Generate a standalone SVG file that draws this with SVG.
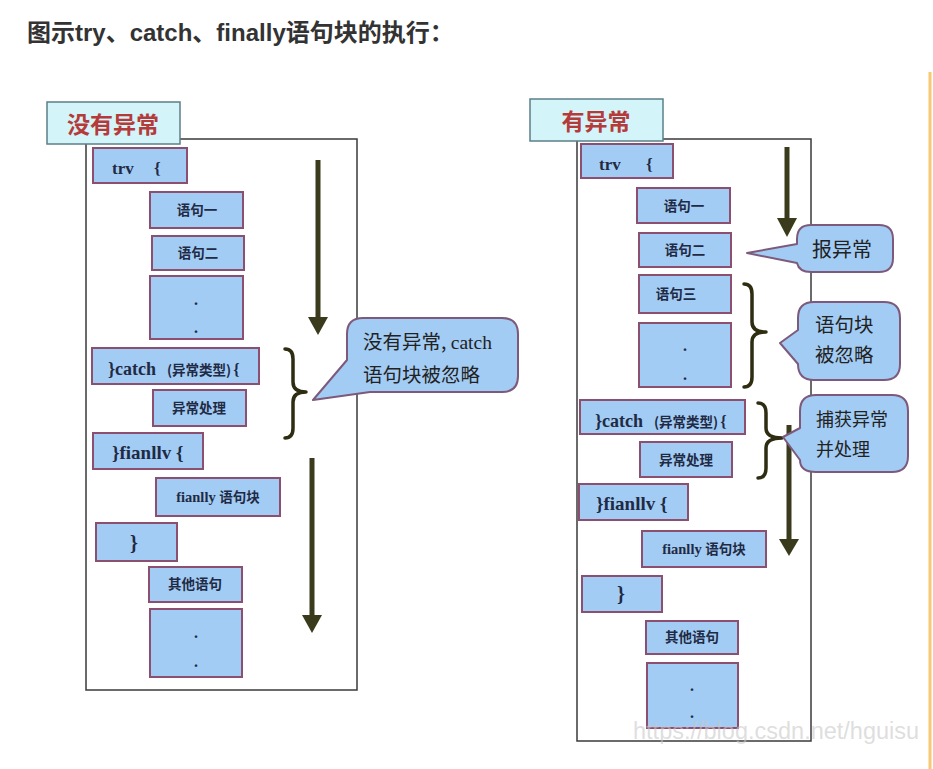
<svg xmlns="http://www.w3.org/2000/svg" width="933" height="769" viewBox="0 0 933 769">
  <style>
    .title { font-family: "Liberation Sans", "Noto Sans CJK SC", sans-serif; font-weight: bold; font-size: 24px; fill: #333; }
    .frame { fill: #fff; stroke: #3a3a3a; stroke-width: 1.5; }
    .tag { fill: #d3f4f8; stroke: #5c7f88; stroke-width: 1.5; }
    .tagtxt { font-family: "Noto Sans CJK SC", sans-serif; font-weight: bold; font-size: 23px; fill: #b53b3b; text-anchor: middle; }
    .box { fill: #a3ccf4; stroke: #8d4f6f; stroke-width: 2; }
    .code { font-family: "Liberation Serif", "Noto Sans CJK SC", serif; font-weight: bold; fill: #1f2a44; }
    .paren { font-family: "Noto Sans CJK SC", sans-serif; font-size: 13.5px; }
    .small { font-family: "Noto Sans CJK SC", sans-serif; font-weight: bold; font-size: 13.5px; fill: #1f2a44; text-anchor: middle; }
    .dot { font-family: "Liberation Serif", serif; font-weight: bold; font-size: 16px; fill: #1f2a44; text-anchor: middle; }
    .shaft { stroke: #3a3a1c; stroke-width: 5; fill: none; }
    .head { fill: #3a3a1c; }
    .brace { stroke: #2e2d12; stroke-width: 3.5; fill: none; stroke-linejoin: round; stroke-linecap: round; }
    .bubble { fill: #a3ccf4; stroke: #7d5a7c; stroke-width: 2; stroke-linejoin: round; }
    .btxt { font-family: "Noto Sans CJK SC", sans-serif; fill: #222; }
    .mark { font-family: "Liberation Sans", sans-serif; font-size: 23.5px; fill: #c8c8c8; fill-opacity: 0.6; }
  </style>

  <rect width="933" height="769" fill="#fff"/>
  <line x1="930" y1="72" x2="930" y2="769" stroke="#f8c872" stroke-width="3"/>

  <text class="title" x="27" y="41">图示try、catch、finally语句块的执行：</text>

  <!-- left panel: no exception -->
  <g id="panel-normal">
    <rect class="frame" x="86" y="139" width="271" height="551"/>
    <g id="tag-normal">
      <rect class="tag" x="47" y="102" width="133" height="42"/>
      <text class="tagtxt" x="113" y="133">没有异常</text>
    </g>
  </g>

  <g id="n-try">
    <rect class="box" x="93" y="148" width="94" height="35"/>
    <text class="code" font-size="17" y="174"><tspan x="112">trv</tspan><tspan x="154">{</tspan></text>
  </g>
  <g id="n-s1">
    <rect class="box" x="150" y="192" width="93" height="36"/>
    <text class="small" x="197" y="215">语句一</text>
  </g>
  <g id="n-s2">
    <rect class="box" x="152" y="236" width="92" height="34"/>
    <text class="small" x="198" y="258">语句二</text>
  </g>
  <g id="n-more1">
    <rect class="box" x="150" y="276" width="93" height="63"/>
    <text class="dot" x="196" y="305">.</text>
    <text class="dot" x="196" y="333">.</text>
  </g>
  <g id="n-catch">
    <rect class="box" x="92" y="348" width="167" height="36"/>
    <text class="code" font-size="18" y="375"><tspan x="108">}catch</tspan><tspan class="paren" x="167">(异常类型)</tspan><tspan font-size="16" dx="2">{</tspan></text>
  </g>
  <g id="n-handle">
    <rect class="box" x="153" y="390" width="93" height="36"/>
    <text class="small" x="199" y="413">异常处理</text>
  </g>
  <g id="n-finally">
    <rect class="box" x="93" y="433" width="110" height="36"/>
    <text class="code" font-size="19" x="112" y="459">}fianllv {</text>
  </g>
  <g id="n-fblock">
    <rect class="box" x="156" y="478" width="124" height="38"/>
    <text class="small" x="218" y="502"><tspan font-family="Liberation Serif, serif" font-size="14.5">fianlly </tspan>语句块</text>
  </g>
  <g id="n-close">
    <rect class="box" x="96" y="523" width="81" height="38"/>
    <text class="code" font-size="20" x="130" y="550">}</text>
  </g>
  <g id="n-other">
    <rect class="box" x="149" y="567" width="93" height="35"/>
    <text class="small" x="195" y="589">其他语句</text>
  </g>
  <g id="n-more2">
    <rect class="box" x="150" y="609" width="92" height="68"/>
    <text class="dot" x="196" y="638">.</text>
    <text class="dot" x="196" y="667">.</text>
  </g>

  <!-- right panel: exception thrown -->
  <g id="panel-error">
    <rect class="frame" x="577" y="139" width="234" height="602"/>
    <g id="tag-error">
      <rect class="tag" x="530" y="99" width="133" height="42"/>
      <text class="tagtxt" x="596" y="130">有异常</text>
    </g>
  </g>

  <g id="e-try">
    <rect class="box" x="581" y="144" width="92" height="34"/>
    <text class="code" font-size="17" y="170"><tspan x="599">trv</tspan><tspan x="646">{</tspan></text>
  </g>
  <g id="e-s1">
    <rect class="box" x="637" y="188" width="93" height="35"/>
    <text class="small" x="684" y="211">语句一</text>
  </g>
  <g id="e-s2">
    <rect class="box" x="639" y="233" width="92" height="34"/>
    <text class="small" x="685" y="255">语句二</text>
  </g>
  <g id="e-s3">
    <rect class="box" x="639" y="275" width="92" height="38"/>
    <text class="small" x="676" y="299">语句三</text>
  </g>
  <g id="e-more1">
    <rect class="box" x="639" y="323" width="92" height="64"/>
    <text class="dot" x="685" y="351">.</text>
    <text class="dot" x="685" y="380">.</text>
  </g>
  <g id="e-catch">
    <rect class="box" x="580" y="400" width="165" height="34"/>
    <text class="code" font-size="18" y="427"><tspan x="595">}catch</tspan><tspan class="paren" x="654">(异常类型)</tspan><tspan font-size="16" dx="2">{</tspan></text>
  </g>
  <g id="e-handle">
    <rect class="box" x="640" y="442" width="92" height="35"/>
    <text class="small" x="686" y="465">异常处理</text>
  </g>
  <g id="e-finally">
    <rect class="box" x="579" y="484" width="109" height="36"/>
    <text class="code" font-size="19" x="596" y="510">}fianllv {</text>
  </g>
  <g id="e-fblock">
    <rect class="box" x="642" y="531" width="124" height="36"/>
    <text class="small" x="704" y="554"><tspan font-family="Liberation Serif, serif" font-size="14.5">fianlly </tspan>语句块</text>
  </g>
  <g id="e-close">
    <rect class="box" x="582" y="576" width="80" height="36"/>
    <text class="code" font-size="20" x="617" y="601">}</text>
  </g>
  <g id="e-other">
    <rect class="box" x="646" y="621" width="92" height="33"/>
    <text class="small" x="692" y="642">其他语句</text>
  </g>
  <g id="e-more2">
    <rect class="box" x="647" y="663" width="91" height="65"/>
    <text class="dot" x="692" y="691">.</text>
    <text class="dot" x="692" y="718">.</text>
  </g>

  <!-- flow arrows and braces -->
  <g id="connectors">
    <line class="shaft" x1="318" y1="160" x2="318" y2="322"/>
    <polygon class="head" points="308,317 328,317 318,335"/>
    <line class="shaft" x1="312" y1="458" x2="312" y2="620"/>
    <polygon class="head" points="302,615 322,615 312,633"/>

    <line class="shaft" x1="787" y1="147" x2="787" y2="222"/>
    <polygon class="head" points="777,218 797,218 787,237"/>
    <line class="shaft" x1="789" y1="425" x2="789" y2="543"/>
    <polygon class="head" points="779,539 799,539 789,556"/>

    <path class="brace" d="M285,349 Q293,349 293,359 V382 Q293,392 306,392 Q293,392 293,402 V428 Q293,438 285,438"/>
    <path class="brace" d="M744,284 Q752,284 752,294 V322 Q752,332 766,332 Q752,332 752,342 V377 Q752,387 744,387"/>
    <path class="brace" d="M758,403 Q766,403 766,413 V428 Q766,438 782,438 Q766,438 766,448 V468 Q766,478 758,478"/>
  </g>

  <!-- callouts -->
  <g id="c-skip-catch">
    <path class="bubble" d="M363,318 H502 Q518,318 518,334 V376 Q518,392 502,392 H370 L313,400 L347,360 V334 Q347,318 363,318 Z"/>
    <text class="btxt" font-size="19.5" x="363" y="349">没有异常, <tspan font-family="Liberation Serif, serif">catch</tspan></text>
    <text class="btxt" font-size="19.5" x="363" y="382">语句块被忽略</text>
  </g>
  <g id="c-throw">
    <path class="bubble" d="M811,225 H879 Q893,225 893,239 V258 Q893,272 879,272 H811 Q799,272 797,263 L747,253 L797,244 V239 Q797,225 811,225 Z"/>
    <text class="btxt" font-size="20" x="812" y="257">报异常</text>
  </g>
  <g id="c-skip-try">
    <path class="bubble" d="M814,302 H884 Q900,302 900,318 V364 Q900,380 884,380 H814 Q798,380 798,364 L780,343 L798,330 V318 Q798,302 814,302 Z"/>
    <text class="btxt" font-size="19.5" x="815" y="332">语句块</text>
    <text class="btxt" font-size="19.5" x="815" y="362">被忽略</text>
  </g>
  <g id="c-catch">
    <path class="bubble" d="M816,395 H892 Q908,395 908,411 V456 Q908,472 892,472 H816 Q800,472 800,460 L783,437 L800,428 V411 Q800,395 816,395 Z"/>
    <text class="btxt" font-size="18" x="816" y="426">捕获异常</text>
    <text class="btxt" font-size="18" x="816" y="456">并处理</text>
  </g>

  <text class="mark" x="633" y="739">https://blog.csdn.net/hguisu</text>
</svg>
